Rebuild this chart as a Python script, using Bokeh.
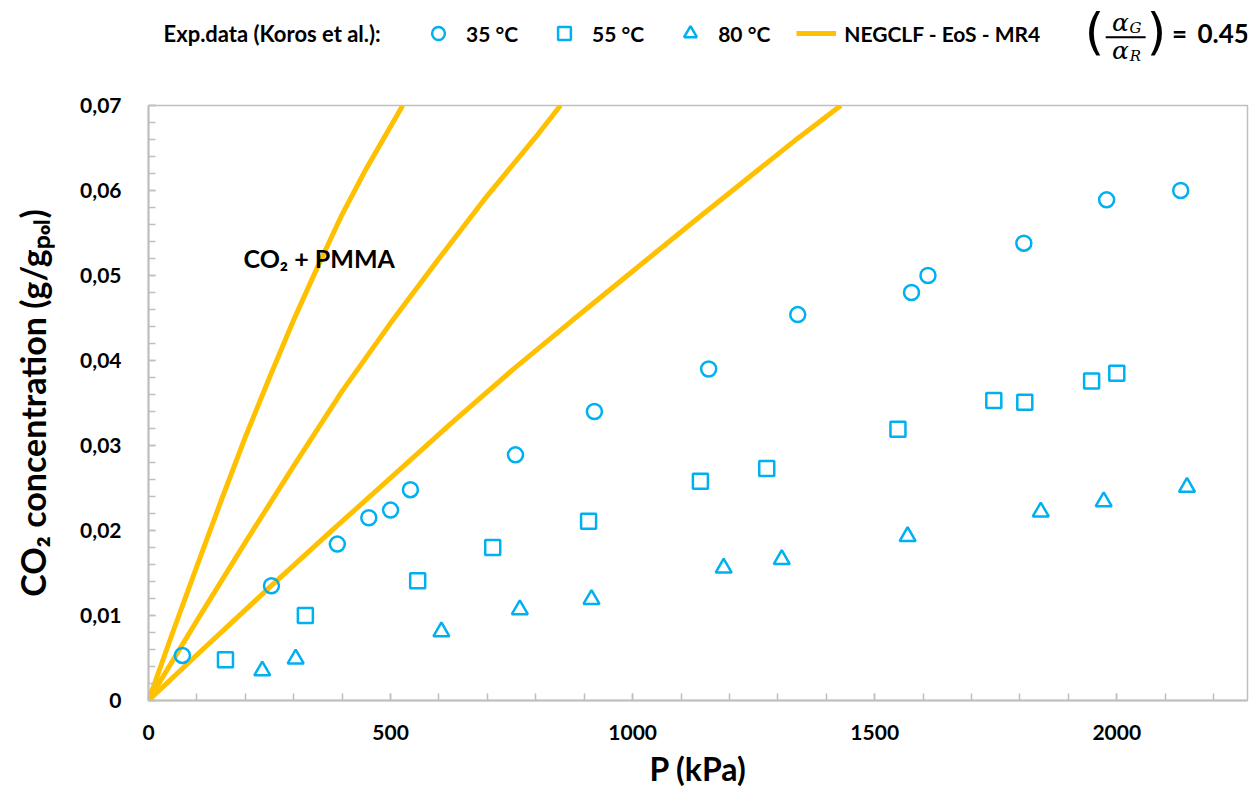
from bokeh.plotting import figure
from bokeh.layouts import column
from bokeh.models import (Range1d, FixedTicker, CustomJSTickFormatter, Legend,
                          LegendItem, Label)
from bokeh.embed import file_html
from bokeh.resources import INLINE

# ---------------- data ----------------
exp35_P = [70, 254, 390, 455, 500, 541, 758, 921, 1157, 1341, 1576, 1610, 1808, 1979, 2132]
exp35_c = [0.0053, 0.0135, 0.0184, 0.0215, 0.0224, 0.0248, 0.0289, 0.0340, 0.0390,
           0.0454, 0.0480, 0.0500, 0.0538, 0.0589, 0.0600]

exp55_P = [159, 324, 556, 711, 909, 1140, 1277, 1548, 1746, 1810, 1948, 2000]
exp55_c = [0.0048, 0.0100, 0.0141, 0.0180, 0.0211, 0.0258, 0.0273, 0.0319, 0.0353,
           0.0351, 0.0376, 0.0385]

exp80_P = [235, 304, 605, 767, 915, 1188, 1308, 1568, 1843, 1973, 2145]
exp80_c = [0.0035, 0.0049, 0.0081, 0.0107, 0.0119, 0.0156, 0.0166, 0.0193, 0.0222,
           0.0234, 0.0251]

model35_P = [0, 50, 100, 150, 200, 250, 300, 350, 400, 450, 525]
model35_c = [0.0, 0.0080, 0.0158, 0.0235, 0.0310, 0.0380, 0.0448, 0.0511, 0.0572,
             0.0626, 0.0700]

model55_P = [0, 100, 200, 300, 400, 500, 600, 700, 800, 851]
model55_c = [0.0, 0.0094, 0.0186, 0.0276, 0.0364, 0.0444, 0.0520, 0.0594, 0.0663, 0.0700]

model80_P = [0, 125, 250, 375, 500, 625, 750, 875, 1000, 1125, 1250, 1340, 1430]
model80_c = [0.0, 0.0067, 0.0133, 0.0198, 0.0262, 0.0326, 0.0388, 0.0447, 0.0505,
             0.0563, 0.0620, 0.0661, 0.0700]

x_major = [0, 500, 1000, 1500, 2000]
x_minor = list(range(0, 2300, 100))
y_major = [0, 0.01, 0.02, 0.03, 0.04, 0.05, 0.06, 0.07]
y_minor = [i * 0.002 for i in range(36)]

series_labels = ["35 °C", "55 °C", "80 °C"]
model_label = "NEGCLF - EoS - MR4"
legend_title = "Exp.data (Koros et al.):"
ratio_value = "0.45"

# ---------------- styling ----------------
BLUE = "#00B0F0"
ORANGE = "#FFC000"
GRAY = "#BFBFBF"
FONT = "Lato"
W, H, HEAD = 1255, 796, 70
X0, X1, Y0, Y1 = 0, 2270, 0, 0.07
FL, FR, FT, FB = 148, 1247, 105, 700   # frame edges on the whole page

MARK35 = dict(marker="circle", size=15, line_color=BLUE, fill_color=None, line_width=2.5)
MARK55 = dict(marker="square", size=15, line_color=BLUE, fill_color=None, line_width=2.5)
MARK80 = dict(marker="triangle", size=16, line_color=BLUE, fill_color=None, line_width=2.5)
LINE = dict(line_color=ORANGE, line_width=5)

# ---------------- main chart ----------------
p = figure(width=W, height=H - HEAD, output_backend="svg", toolbar_location=None,
           x_range=Range1d(X0, X1), y_range=Range1d(Y0, Y1),
           min_border_left=FL, min_border_right=W - FR, min_border_top=FT - HEAD,
           min_border_bottom=H - FB, background_fill_color="white",
           border_fill_color="white")
p.xgrid.visible = False
p.ygrid.visible = False
p.outline_line_color = GRAY
p.outline_line_width = 1.5

for ax in (p.xaxis[0], p.yaxis[0]):
    ax.axis_line_color = GRAY
    ax.axis_line_width = 2
    ax.major_tick_line_color = GRAY
    ax.minor_tick_line_color = GRAY
    ax.major_tick_line_width = 1.5
    ax.minor_tick_line_width = 1.5
    ax.major_tick_in = 7
    ax.major_tick_out = 0
    ax.minor_tick_in = 7
    ax.minor_tick_out = 0
    ax.major_label_text_font = FONT
    ax.major_label_text_font_style = "bold"
    ax.major_label_text_font_size = "21px"
    ax.major_label_text_color = "black"
    ax.axis_label_text_font = FONT
    ax.axis_label_text_font_style = "bold"
    ax.axis_label_text_color = "black"

p.xaxis.ticker = FixedTicker(ticks=x_major, minor_ticks=x_minor)
p.yaxis.ticker = FixedTicker(ticks=y_major, minor_ticks=y_minor)
p.yaxis.formatter = CustomJSTickFormatter(
    code="return tick == 0 ? '0' : tick.toFixed(2).replace('.', ',');")
p.xaxis.major_label_standoff = 24
p.yaxis.major_label_standoff = 27
p.xaxis.axis_label = "P (kPa)"
p.yaxis.axis_label = "CO₂ concentration (g/gₚₒₗ)"
p.xaxis.axis_label_text_font_size = "32px"
p.yaxis.axis_label_text_font_size = "34px"
p.xaxis.axis_label_standoff = 6
p.yaxis.axis_label_standoff = 24

p.line(model35_P, model35_c, **LINE)
p.line(model55_P, model55_c, **LINE)
p.line(model80_P, model80_c, **LINE)
p.scatter(exp35_P, exp35_c, **MARK35)
p.scatter(exp55_P, exp55_c, **MARK55)
p.scatter(exp80_P, exp80_c, **MARK80)

p.add_layout(Label(x=X0 + (243 - FL) * (X1 - X0) / (FR - FL),
                   y=Y0 + (FB - 257) * (Y1 - Y0) / (FB - FT),
                   text="CO₂ + PMMA", text_font=FONT, text_font_style="bold",
                   text_font_size="25px", text_baseline="middle",
                   text_align="left", text_color="black"))

# ---------------- header strip (legend + ratio) ----------------
# its frame is aligned with the chart's frame, so x data == page pixel
h = figure(width=W, height=HEAD, output_backend="svg", toolbar_location=None,
           x_range=Range1d(FL, FR), y_range=Range1d(HEAD, 0),
           x_axis_type=None, y_axis_type=None, min_border=0,
           min_border_left=FL, min_border_right=W - FR,
           background_fill_color="white", border_fill_color="white")
h.xgrid.visible = False
h.ygrid.visible = False
h.outline_line_color = None

# hidden copies of the series, only used to draw the legend keys
k35 = h.scatter(exp35_P, exp35_c, visible=False, **MARK35)
k55 = h.scatter(exp55_P, exp55_c, visible=False, **MARK55)
k80 = h.scatter(exp80_P, exp80_c, visible=False, **MARK80)
kln = h.line(model35_P, model35_c, visible=False, **LINE)

legend = Legend(items=[
    LegendItem(label=series_labels[0], renderers=[k35]),
    LegendItem(label=series_labels[1], renderers=[k55]),
    LegendItem(label=series_labels[2], renderers=[k80]),
    LegendItem(label=model_label, renderers=[kln]),
], orientation="horizontal", location=(418 - FL, HEAD - 49), padding=0, margin=0,
    spacing=26, glyph_width=40, glyph_height=32, label_height=32,
    label_standoff=8, border_line_color=None, background_fill_alpha=0,
    inactive_fill_alpha=0, label_text_font=FONT, label_text_font_style="bold",
    label_text_font_size="21px", label_text_color="black")
h.add_layout(legend, "center")


def lab(cx, cy, text, size, style="bold", font=FONT, align="center"):
    h.add_layout(Label(x=cx, y=cy, text=text, text_font=font,
                       text_font_size=size, text_font_style=style,
                       text_align=align, text_baseline="middle",
                       text_color="black"))


lab(163, 33, legend_title, "22px", align="left")
lab(1094, 31, "(", "50px", style="normal", font="DejaVu Sans")
lab(1156, 31, ")", "50px", style="normal", font="DejaVu Sans")
lab(1120, 22, "α", "25px", style="italic", font="DejaVu Serif")
lab(1135, 27, "G", "15px", style="italic", font="DejaVu Serif")
lab(1125, 37, "───", "22px", style="normal", font="DejaVu Sans")
lab(1120, 50, "α", "25px", style="italic", font="DejaVu Serif")
lab(1135, 55, "R", "15px", style="italic", font="DejaVu Serif")
lab(1179, 32, "=", "26px")
lab(1197, 33, ratio_value, "26px", align="left")

layout = column(h, p, spacing=0)
open("out.html", "w").write(file_html(layout, INLINE))
